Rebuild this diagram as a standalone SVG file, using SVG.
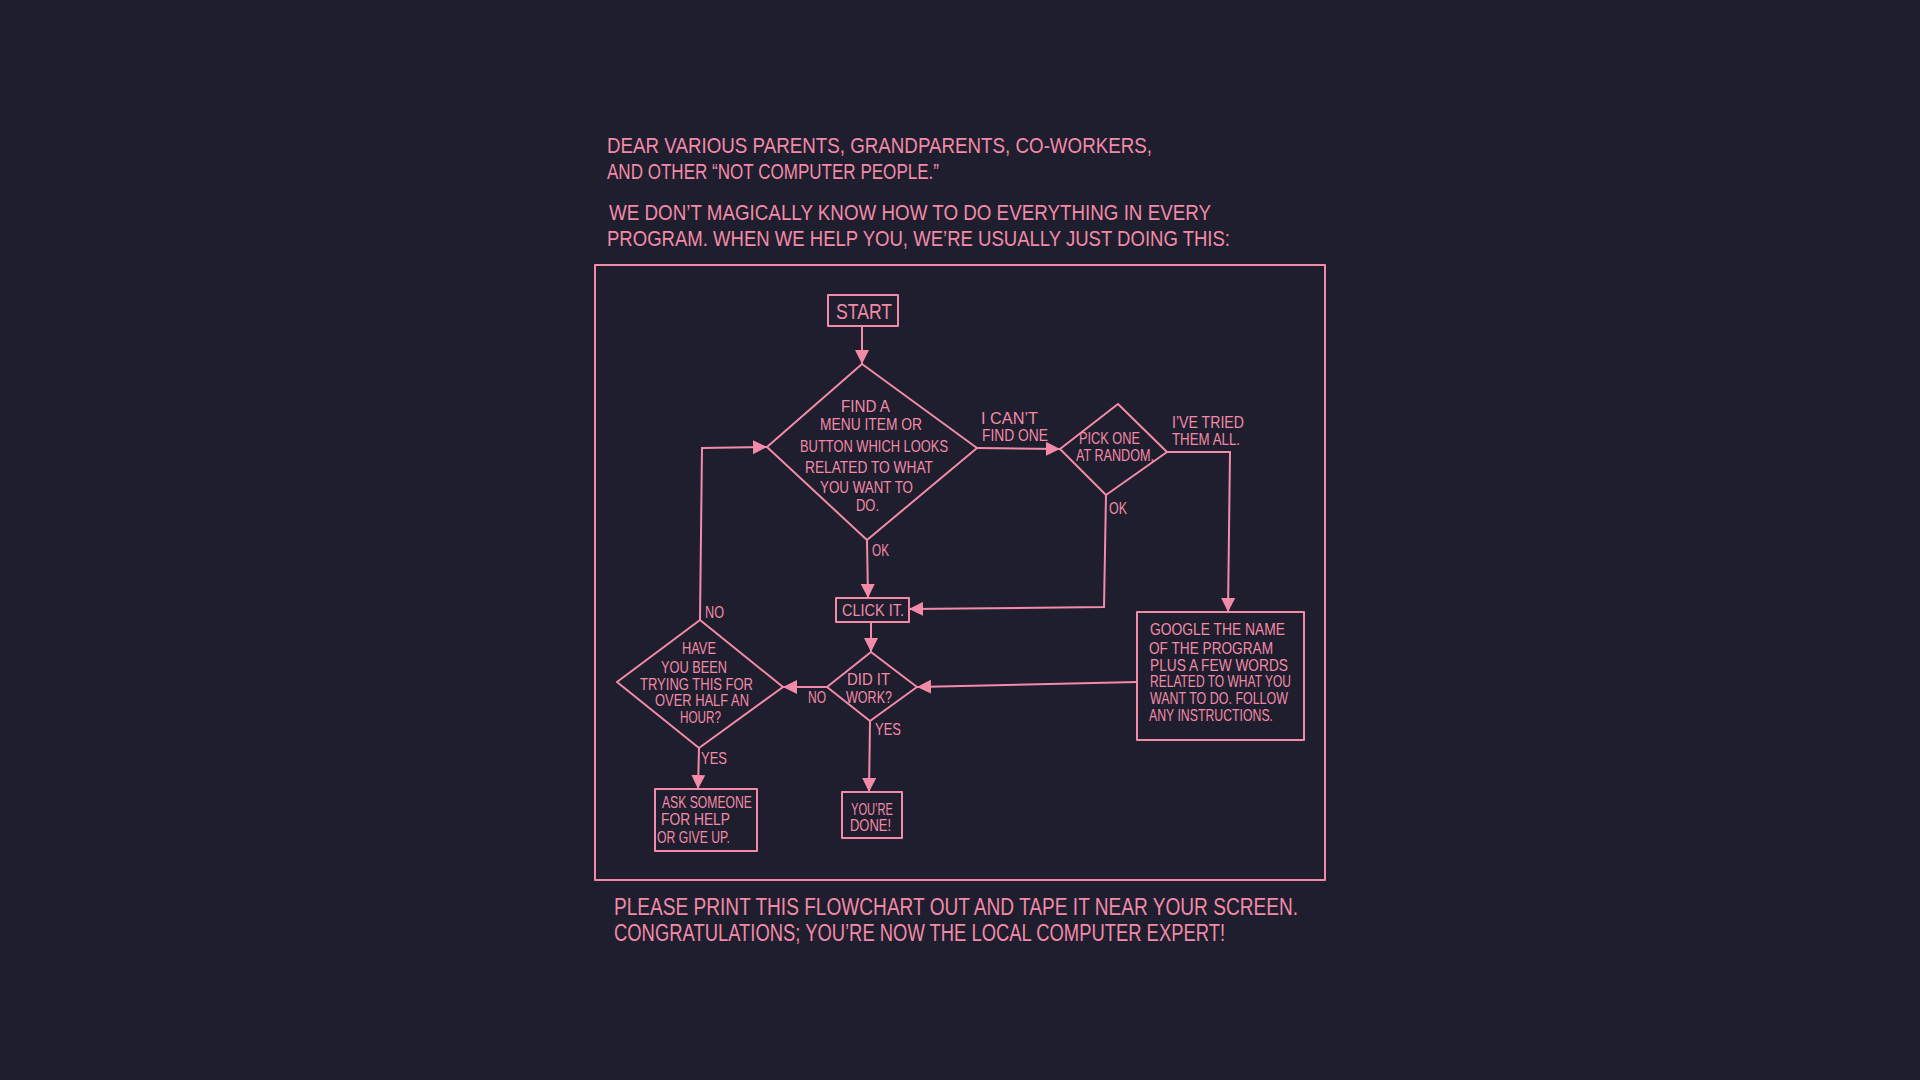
<svg xmlns="http://www.w3.org/2000/svg" width="1920" height="1080" viewBox="0 0 1920 1080">
<style>
  .t{font-family:"Liberation Sans","DejaVu Sans",sans-serif;fill:#f38ba8;}
  .h{font-size:22px;}
  .n{font-size:16.5px;}
  .s{stroke:#f38ba8;stroke-width:2;fill:none;stroke-linejoin:round;stroke-linecap:round;}
  .c{stroke:#f38ba8;stroke-width:2;fill:none;marker-end:url(#ah);}
</style>
<defs>
  <marker id="ah" viewBox="0 0 10 10" refX="10" refY="5" markerWidth="14" markerHeight="14" markerUnits="userSpaceOnUse" orient="auto">
    <path d="M0,0 L10,5 L0,10 Z" fill="#f38ba8"/>
  </marker>
</defs>
<rect width="1920" height="1080" fill="#1e1e2e"/>

<g id="header">
  <text class="t h" x="607" y="153" textLength="545" lengthAdjust="spacingAndGlyphs">DEAR VARIOUS PARENTS, GRANDPARENTS, CO-WORKERS,</text>
  <text class="t h" x="607" y="179" textLength="332" lengthAdjust="spacingAndGlyphs">AND OTHER “NOT COMPUTER PEOPLE.”</text>
  <text class="t h" x="609" y="220" textLength="602" lengthAdjust="spacingAndGlyphs">WE DON’T MAGICALLY KNOW HOW TO DO EVERYTHING IN EVERY</text>
  <text class="t h" x="607" y="246" textLength="623" lengthAdjust="spacingAndGlyphs">PROGRAM. WHEN WE HELP YOU, WE’RE USUALLY JUST DOING THIS:</text>
</g>

<rect id="frame" x="595" y="265" width="730" height="615" class="s"/>

<g id="connectors">
  <path class="c" d="M862,326 L862,364"/>
  <path class="c" d="M867,540 L868,598"/>
  <path class="c" d="M977,448 L1060,449"/>
  <path class="c" d="M1106,495 L1104,607 L909,609"/>
  <path class="c" d="M1167,452 L1230,452 L1228,612"/>
  <path class="c" d="M871,622 L871,652"/>
  <path class="c" d="M1137,682 L917,687"/>
  <path class="c" d="M827,687 L783,687"/>
  <path class="c" d="M700,620 L702,448 L767,447"/>
  <path class="c" d="M699,748 L698,789"/>
  <path class="c" d="M870,721 L869,792"/>
  <text class="t n" x="981" y="424" textLength="57" lengthAdjust="spacingAndGlyphs">I CAN’T</text>
  <text class="t n" x="982" y="441" textLength="66" lengthAdjust="spacingAndGlyphs">FIND ONE</text>
  <text class="t n" x="1172" y="428" textLength="72" lengthAdjust="spacingAndGlyphs">I’VE TRIED</text>
  <text class="t n" x="1172" y="445" textLength="68" lengthAdjust="spacingAndGlyphs">THEM ALL.</text>
  <text class="t n" x="872" y="556" textLength="17" lengthAdjust="spacingAndGlyphs">OK</text>
  <text class="t n" x="1109" y="514" textLength="18" lengthAdjust="spacingAndGlyphs">OK</text>
  <text class="t n" x="808" y="703" textLength="18" lengthAdjust="spacingAndGlyphs">NO</text>
  <text class="t n" x="705" y="618" textLength="19" lengthAdjust="spacingAndGlyphs">NO</text>
  <text class="t n" x="701" y="764" textLength="26" lengthAdjust="spacingAndGlyphs">YES</text>
  <text class="t n" x="875" y="735" textLength="26" lengthAdjust="spacingAndGlyphs">YES</text>
</g>

<g id="start">
  <rect x="828" y="295" width="70" height="31" class="s"/>
  <text class="t" style="font-size:22px" x="836" y="319" textLength="56" lengthAdjust="spacingAndGlyphs">START</text>
</g>

<g id="find">
  <polygon points="862,364 977,448 867,540 767,447" class="s"/>
  <text class="t n" x="841" y="412" textLength="49" lengthAdjust="spacingAndGlyphs">FIND A</text>
  <text class="t n" x="820" y="430" textLength="102" lengthAdjust="spacingAndGlyphs">MENU ITEM OR</text>
  <text class="t n" x="800" y="452" textLength="148" lengthAdjust="spacingAndGlyphs">BUTTON WHICH LOOKS</text>
  <text class="t n" x="805" y="473" textLength="128" lengthAdjust="spacingAndGlyphs">RELATED TO WHAT</text>
  <text class="t n" x="820" y="493" textLength="93" lengthAdjust="spacingAndGlyphs">YOU WANT TO</text>
  <text class="t n" x="856" y="511" textLength="23" lengthAdjust="spacingAndGlyphs">DO.</text>
</g>

<g id="pick">
  <polygon points="1118,404 1167,452 1106,495 1060,449" class="s"/>
  <text class="t n" x="1079" y="444" textLength="61" lengthAdjust="spacingAndGlyphs">PICK ONE</text>
  <text class="t n" x="1076" y="461" textLength="78" lengthAdjust="spacingAndGlyphs">AT RANDOM.</text>
</g>

<g id="google">
  <rect x="1137" y="612" width="167" height="128" class="s"/>
  <text class="t n" x="1150" y="635" textLength="135" lengthAdjust="spacingAndGlyphs">GOOGLE THE NAME</text>
  <text class="t n" x="1149" y="654" textLength="124" lengthAdjust="spacingAndGlyphs">OF THE PROGRAM</text>
  <text class="t n" x="1150" y="671" textLength="138" lengthAdjust="spacingAndGlyphs">PLUS A FEW WORDS</text>
  <text class="t n" x="1150" y="687" textLength="141" lengthAdjust="spacingAndGlyphs">RELATED TO WHAT YOU</text>
  <text class="t n" x="1150" y="704" textLength="138" lengthAdjust="spacingAndGlyphs">WANT TO DO.  FOLLOW</text>
  <text class="t n" x="1149" y="721" textLength="124" lengthAdjust="spacingAndGlyphs">ANY INSTRUCTIONS.</text>
</g>

<g id="click">
  <rect x="836" y="598" width="73" height="24" class="s"/>
  <text class="t n" x="842" y="616" textLength="62" lengthAdjust="spacingAndGlyphs">CLICK IT.</text>
</g>

<g id="didit">
  <polygon points="871,652 917,687 870,721 827,687" class="s"/>
  <text class="t n" x="847" y="685" textLength="43" lengthAdjust="spacingAndGlyphs">DID IT</text>
  <text class="t n" x="846" y="703" textLength="46" lengthAdjust="spacingAndGlyphs">WORK?</text>
</g>

<g id="have">
  <polygon points="700,620 783,687 699,748 617,682" class="s"/>
  <text class="t n" x="682" y="654" textLength="34" lengthAdjust="spacingAndGlyphs">HAVE</text>
  <text class="t n" x="661" y="673" textLength="66" lengthAdjust="spacingAndGlyphs">YOU BEEN</text>
  <text class="t n" x="640" y="690" textLength="113" lengthAdjust="spacingAndGlyphs">TRYING THIS FOR</text>
  <text class="t n" x="655" y="706" textLength="94" lengthAdjust="spacingAndGlyphs">OVER HALF AN</text>
  <text class="t n" x="680" y="723" textLength="41" lengthAdjust="spacingAndGlyphs">HOUR?</text>
</g>

<g id="ask">
  <rect x="655" y="789" width="102" height="62" class="s"/>
  <text class="t n" x="662" y="808" textLength="90" lengthAdjust="spacingAndGlyphs">ASK SOMEONE</text>
  <text class="t n" x="661" y="825" textLength="69" lengthAdjust="spacingAndGlyphs">FOR  HELP</text>
  <text class="t n" x="657" y="843" textLength="73" lengthAdjust="spacingAndGlyphs">OR GIVE UP.</text>
</g>

<g id="done">
  <rect x="842" y="792" width="60" height="46" class="s"/>
  <text class="t n" x="851" y="815" textLength="42" lengthAdjust="spacingAndGlyphs">YOU’RE</text>
  <text class="t n" x="850" y="831" textLength="41" lengthAdjust="spacingAndGlyphs">DONE!</text>
</g>

<g id="footer">
  <text class="t" style="font-size:23px" x="614" y="915" textLength="684" lengthAdjust="spacingAndGlyphs">PLEASE PRINT THIS FLOWCHART OUT AND TAPE IT NEAR YOUR SCREEN.</text>
  <text class="t" style="font-size:23px" x="614" y="941" textLength="611" lengthAdjust="spacingAndGlyphs">CONGRATULATIONS; YOU’RE NOW THE LOCAL COMPUTER EXPERT!</text>
</g>
</svg>
